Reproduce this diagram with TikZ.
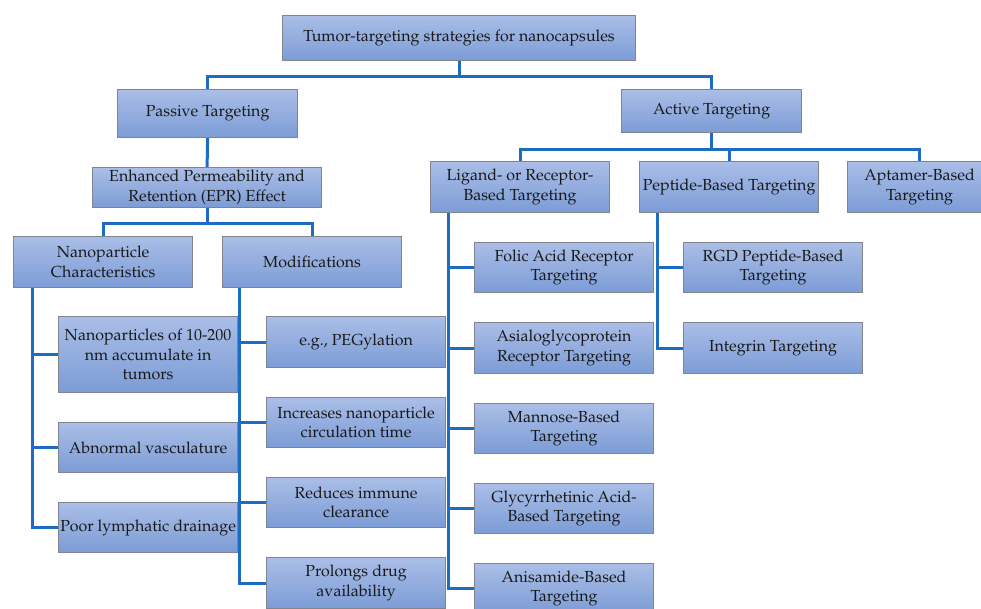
\documentclass[tikz,border=0pt]{standalone}
\usepackage[T1]{fontenc}
\usepackage{mathpazo}
\definecolor{linkblue}{RGB}{30,108,192}
\definecolor{boxtop}{RGB}{170,190,231}
\definecolor{boxbot}{RGB}{124,156,214}
\definecolor{boxborder}{RGB}{128,132,142}
\newcommand{\boxfont}{\fontsize{16}{19.5}\selectfont}
\tikzset{
  bx/.style={draw=boxborder, line width=1.2pt, top color=boxtop, bottom color=boxbot,
    align=center, anchor=north west, inner sep=0pt, font=\boxfont, text=black!90,
    minimum width=179pt, minimum height=50pt},
  conn/.style={draw=linkblue, line width=3pt}
}
\begin{document}
\begin{tikzpicture}[x=1pt,y=-1pt]
\useasboundingbox (0,0) rectangle (981,608);
\clip (0,0) rectangle (981,608);
% boxes
\node[bx, minimum width=353pt, minimum height=45pt] (top) at (282,15) {Tumor-targeting strategies for nanocapsules};
\node[bx, minimum width=180pt, minimum height=48pt] (passive) at (117,89) {Passive Targeting};
\node[bx, minimum width=180pt, minimum height=43pt] (active) at (621,89) {Active Targeting};
\node[bx, minimum width=229pt, minimum height=40pt] (epr) at (92,167) {Enhanced Permeability and\\Retention (EPR) Effect};
\node[bx, minimum height=51pt] (nc) at (13,236) {Nanoparticle\\Characteristics};
\node[bx, minimum height=51pt] (mod) at (222,236) {Modifications};
\node[bx, minimum height=51pt] (lig) at (430,161) {Ligand- or Receptor-\\Based Targeting};
\node[bx, minimum height=51pt] (pep) at (639,161) {Peptide-Based Targeting};
\node[bx, minimum width=144pt, minimum height=51pt] (apt) at (847,161) {Aptamer-Based\\Targeting};
% passive subtree
\node[bx, minimum height=76pt] (nano) at (58,316) {Nanoparticles of 10-200\\nm accumulate in\\tumors};
\node[bx] (abn) at (58,422) {Abnormal vasculature};
\node[bx] (poor) at (58,502) {Poor lymphatic drainage};
\node[bx, minimum height=51pt] (peg) at (266,316) {e.g., PEGylation};
\node[bx] (inc) at (266,397) {Increases nanoparticle\\circulation time};
\node[bx] (red) at (266,477) {Reduces immune\\clearance};
\node[bx, minimum height=51pt] (pro) at (266,557) {Prolongs drug\\availability};
% active subtree
\node[bx] (fol) at (474,242) {Folic Acid Receptor\\Targeting};
\node[bx, minimum height=51pt] (asi) at (474,322) {Asialoglycoprotein\\Receptor Targeting};
\node[bx] (man) at (474,403) {Mannose-Based\\Targeting};
\node[bx] (gly) at (474,483) {Glycyrrhetinic Acid-\\Based Targeting};
\node[bx] (ani) at (474,563) {Anisamide-Based\\Targeting};
\node[bx] (rgd) at (683,242) {RGD Peptide-Based\\Targeting};
\node[bx, minimum height=51pt] (int) at (683,322) {Integrin Targeting};
% connectors
\draw[conn] (top.south) -- ++(0,15) coordinate (j1);
\draw[conn] (j1) -| (passive.north);
\draw[conn] (j1) -| (active.north);
\draw[conn] (passive.south) -- (epr.north);
\draw[conn] (active.south) -- ++(0,16) coordinate (j2);
\draw[conn] (j2) -| (lig.north);
\draw[conn] (j2) -| (pep.north);
\draw[conn] (j2) -| (apt.north);
\draw[conn] (epr.south) -- ++(0,15) coordinate (j3);
\draw[conn] (j3) -| (nc.north);
\draw[conn] (j3) -| (mod.north);
\coordinate (ncl) at ([xshift=19pt]nc.south west);
\draw[conn] (ncl) |- (nano.west);
\draw[conn] (ncl) |- (abn.west);
\draw[conn] (ncl) |- (poor.west);
\coordinate (modl) at ([xshift=17pt]mod.south west);
\draw[conn] (modl) |- (peg.west);
\draw[conn] (modl) |- (inc.west);
\draw[conn] (modl) |- (red.west);
\draw[conn] (modl) |- (pro.west);
\coordinate (ligl) at ([xshift=18pt]lig.south west);
\draw[conn] (ligl) |- (fol.west);
\draw[conn] (ligl) |- (asi.west);
\draw[conn] (ligl) |- (man.west);
\draw[conn] (ligl) |- (gly.west);
\draw[conn] (ligl) |- (ani.west);
\coordinate (pepl) at ([xshift=18pt]pep.south west);
\draw[conn] (pepl) |- (rgd.west);
\draw[conn] (pepl) |- (int.west);
\end{tikzpicture}
\end{document}
